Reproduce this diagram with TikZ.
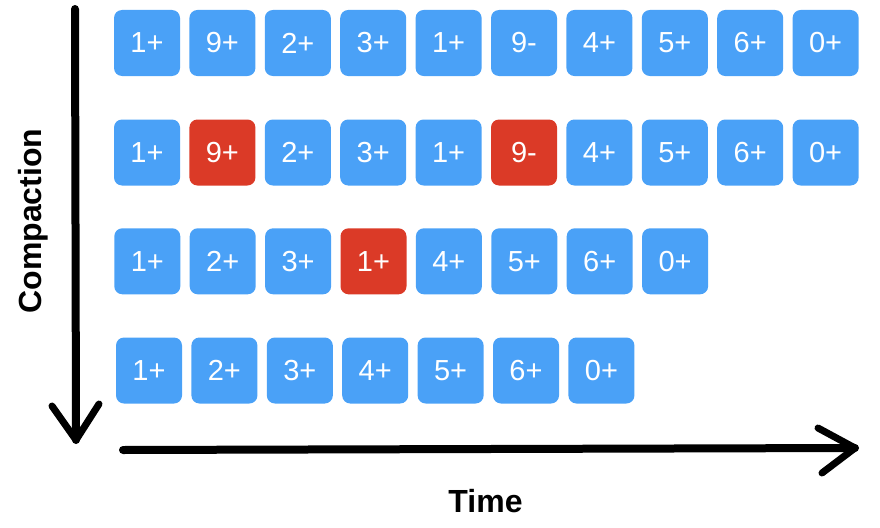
\documentclass[tikz,border=0pt]{standalone}
\usepackage{fontspec}
\setmainfont{Liberation Sans}
\definecolor{boxblue}{RGB}{74,161,247}
\definecolor{boxred}{RGB}{219,58,39}
\begin{document}
\begin{tikzpicture}[x=1pt,y=-1pt,
  cellbase/.style={rounded corners=8pt, minimum width=66pt, minimum height=66pt, inner sep=0pt, text=white, font=\fontsize{29}{34}\selectfont},
  bcell/.style={cellbase, fill=boxblue},
  rcell/.style={cellbase, fill=boxred},
  chalk/.style={line width=8pt, line cap=round, line join=round, black},
  headline/.style={line width=7pt, line cap=round, line join=round, black},
  axislabel/.style={font=\bfseries\fontsize{32}{38}\selectfont, inner sep=0pt, anchor=base}]
\useasboundingbox (0,0) rectangle (880,527);
% row 1
\foreach \t/\c [count=\i from 0] in {1+/bcell,9+/bcell,2+/bcell,3+/bcell,1+/bcell,9-/bcell,4+/bcell,5+/bcell,6+/bcell,0+/bcell}
  \node[\c] (ra\i) at (147+75.4*\i,43) {\t};
% row 2
\foreach \t/\c [count=\i from 0] in {1+/bcell,9+/rcell,2+/bcell,3+/bcell,1+/bcell,9-/rcell,4+/bcell,5+/bcell,6+/bcell,0+/bcell}
  \node[\c] (rb\i) at (147+75.4*\i,152.5) {\t};
% row 3
\foreach \t/\c [count=\i from 0] in {1+/bcell,2+/bcell,3+/bcell,1+/rcell,4+/bcell,5+/bcell,6+/bcell,0+/bcell}
  \node[\c] (rc\i) at (147.3+75.4*\i,261.3) {\t};
% row 4
\foreach \t/\c [count=\i from 0] in {1+/bcell,2+/bcell,3+/bcell,4+/bcell,5+/bcell,6+/bcell,0+/bcell}
  \node[\c] (rd\i) at (149+75.4*\i,370.5) {\t};
% vertical arrow
\coordinate (vtop) at (75,9);
\coordinate (vtip) at (76,440);
\coordinate (vl) at (52,406);
\coordinate (vr) at (99,404);
\draw[chalk] (vtop) -- (vtip);
\draw[headline] (vl) -- (vtip) -- (vr);
% horizontal arrow
\coordinate (hstart) at (123,450);
\coordinate (htip) at (855,448);
\coordinate (hu) at (818,428);
\coordinate (hd) at (822,473);
\draw[chalk] (hstart) -- (htip);
\draw[headline] (hu) -- (htip) -- (hd);
% labels
\node[axislabel, rotate=90] (comp) at (41,221) {Compaction};
\node[axislabel] (time) at (485.5,512) {Time};
\end{tikzpicture}
\end{document}
